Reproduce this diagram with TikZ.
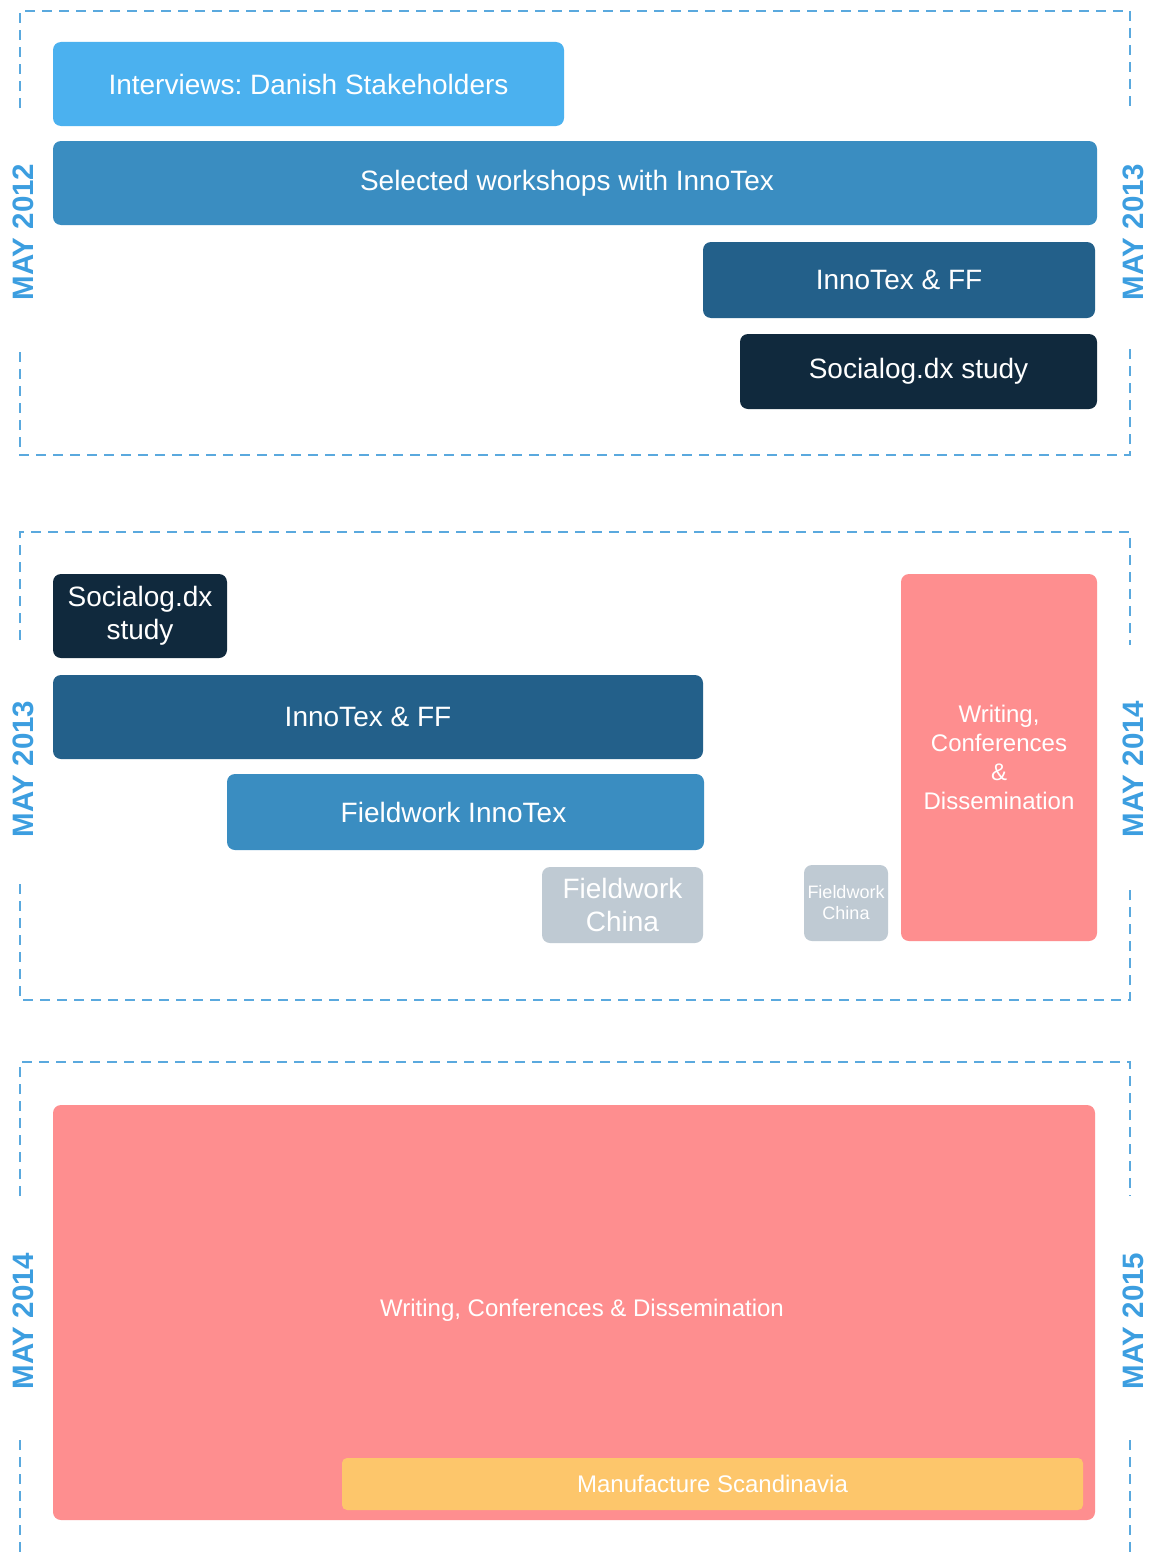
\documentclass[tikz,border=0pt]{standalone}
\usepackage{fontspec}
\setmainfont{Liberation Sans}
\frenchspacing
\definecolor{cIntv}{HTML}{4BB1EF}
\definecolor{cSel}{HTML}{3A8DC1}
\definecolor{cInno}{HTML}{23608A}
\definecolor{cSoc}{HTML}{10293D}
\definecolor{cGray}{HTML}{BFCAD3}
\definecolor{cPink}{HTML}{FE8E8F}
\definecolor{cYel}{HTML}{FDC66B}
\definecolor{cYear}{HTML}{3C9EE0}
\definecolor{cDash}{HTML}{5AA9DE}
\tikzset{
  bar/.style={rectangle, rounded corners=8pt, inner sep=0pt, text=white, align=center, draw=none,
    font=\fontsize{28}{33}\selectfont},
  midtext/.style={font=\fontsize{24}{29}\selectfont},
  smalltext/.style={font=\fontsize{18}{21}\selectfont},
  yearlbl/.style={rotate=90, text=cYear, font=\fontsize{29.5}{31}\selectfont\bfseries, inner sep=0pt},
  frameline/.style={draw=cDash, line width=1.8pt, dash pattern=on 10pt off 7pt}
}
\begin{document}
\begin{tikzpicture}[x=1pt, y=-1pt]
\useasboundingbox[fill=white] (0,0) rectangle (1152,1555);
% frames
\draw[frameline] (20,108) -- (20,11) -- (1130,11) -- (1130,108);
\draw[frameline] (20,352) -- (20,455) -- (1130,455) -- (1130,348);
\draw[frameline] (20,640) -- (20,532) -- (1130,532) -- (1130,645);
\draw[frameline] (20,884) -- (20,1000) -- (1130,1000) -- (1130,884);
\draw[frameline] (20,1196) -- (20,1062) -- (1130,1062) -- (1130,1196);
\draw[frameline] (20,1440) -- (20,1560);
\draw[frameline] (1130,1440) -- (1130,1560);
% year labels
\node[yearlbl] (y12) at (23,232) {MAY 2012};
\node[yearlbl] (y13a) at (1133,232) {MAY 2013};
\node[yearlbl] (y13b) at (23,769) {MAY 2013};
\node[yearlbl] (y14a) at (1133,769) {MAY 2014};
\node[yearlbl] (y14b) at (23,1321) {MAY 2014};
\node[yearlbl] (y15) at (1133,1321) {MAY 2015};
% frame 1
\node[bar, fill=cIntv, minimum width=511pt, minimum height=84pt] (intv) at (308.5,84) {Interviews: Danish Stakeholders};
\node[bar, fill=cSel, minimum width=1044pt, minimum height=84pt] (sel) at (575,183) {\hspace*{-16pt}Selected workshops with InnoTex};
\node[bar, fill=cInno, minimum width=392pt, minimum height=76pt] (innoA) at (899,280) {InnoTex \& FF};
\node[bar, fill=cSoc, minimum width=357pt, minimum height=75pt] (socA) at (918.5,371.5) {Socialog.dx study};
% frame 2
\node[bar, fill=cSoc, minimum width=174pt, minimum height=84pt] (socB) at (140,616) {Socialog.dx\\study};
\node[bar, fill=cInno, minimum width=650pt, minimum height=84pt] (innoB) at (378,717) {\hspace*{-20pt}InnoTex \& FF};
\node[bar, fill=cSel, minimum width=477pt, minimum height=76pt] (fieldInno) at (465.5,812) {\hspace*{-24pt}Fieldwork InnoTex};
\node[bar, fill=cGray, minimum width=161pt, minimum height=76pt] (chinaA) at (622.5,905) {Fieldwork\\China};
\node[bar, smalltext, fill=cGray, minimum width=84pt, minimum height=76pt] (chinaB) at (846,903) {Fieldwork\\China};
\node[bar, midtext, fill=cPink, minimum width=196pt, minimum height=367pt] (writeA) at (999,757.5) {Writing,\\Conferences\\\&\\Dissemination};
% frame 3
\node[bar, midtext, fill=cPink, minimum width=1042pt, minimum height=415pt] (writeB) at (574,1312.5) {};
\node[midtext, text=white, inner sep=0pt] (writeBtxt) at (582,1310) {Writing, Conferences \& Dissemination};
\node[bar, midtext, fill=cYel, rounded corners=5pt, minimum width=741pt, minimum height=52pt] (manu) at (712.5,1484) {Manufacture Scandinavia};
\end{tikzpicture}
\end{document}
